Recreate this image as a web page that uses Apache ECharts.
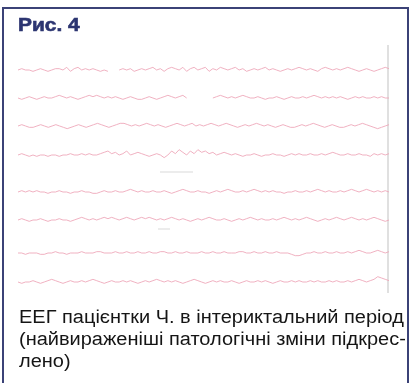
<!DOCTYPE html>
<html>
<head>
<meta charset="utf-8">
<script src="https://cdn.jsdelivr.net/npm/echarts@6/dist/echarts.min.js"></script>
<style>
html,body{margin:0;padding:0;background:#fff;}
#chart{width:410px;height:383px;}
</style>
</head>
<body>
<div id="chart"></div>
<script>
// EEG channel traces (relative amplitude; null = gap in trace)
const ch1 = [0,1,0,0,-1,0,1,0,-1,0,1,1,0,2,-1,1,2,0,1,0,1,0,-1,0,-1,null,null,0,1,0,1,-1,0,1,0,1,2,0,1,-1,1,2,1,0,2,-1,1,2,0,1,2,-1,1,0,2,1,0,1,2,0,1,-1,0,1,0,1,2,0,1,0,-1,0,1,0,1,2,1,0,1,0,-1,1,2,1,0,1,0,1,2,1,0,-1,0,1,0,-1,0,1,2,1];
const ch2 = [0,-1,0,1,0,-1,0,1,0,0,1,2,1,0,1,0,-1,0,1,2,1,2,1,0,1,0,1,0,-1,0,1,0,-1,-1,0,1,0,-1,0,1,2,1,0,1,2,0,null,null,null,null,null,null,0,1,2,1,0,1,0,1,2,1,0,0,1,0,-1,0,0,1,0,-1,0,1,0,0,1,0,1,2,1,0,1,0,1,0,1,0,-1,0,1,0,1,0,0,1,0,1,0,0];
const ch3 = [0,1,0,-1,-1,0,1,0,-1,0,1,0,-1,-2,-1,0,1,0,-1,0,1,2,1,0,-1,0,1,2,2,1,0,1,0,1,2,1,0,1,0,-1,0,1,2,1,0,1,2,0,1,0,1,2,1,0,1,2,1,0,-1,0,1,0,1,2,1,0,1,0,-1,0,1,0,-1,-1,0,1,0,1,2,1,0,-1,0,1,0,-1,-1,0,1,0,1,2,1,0,-1,-2,-1,0,1];
const ch4 = [0,1,0,-1,0,-1,0,0,-1,0,0,-1,0,0,1,0,0,1,0,1,0,0,1,2,3,1,2,0,1,3,0,1,2,1,0,-1,0,1,0,-2,0,3,1,4,2,0,3,1,4,2,3,1,2,0,1,2,1,0,1,0,-1,0,0,1,0,-1,0,0,1,0,0,-1,0,1,0,1,0,0,1,0,0,1,0,1,2,1,0,0,1,0,0,1,0,0,-1,1,0,1,0,1];
const ch5 = [0,1,0,1,0,1,0,0,-1,0,0,1,0,0,-1,0,0,1,0,0,-1,-1,0,1,0,0,1,0,0,1,2,1,0,1,0,0,1,0,0,1,0,-1,0,1,2,1,0,0,1,0,0,-1,0,1,0,1,2,1,0,0,1,0,1,2,1,0,1,0,1,0,0,-1,0,0,1,0,0,1,0,1,2,1,0,1,0,0,1,0,1,2,1,0,1,2,1,0,1,0,1,0];
const ch6 = [0,1,0,-1,0,0,1,0,-1,0,0,1,0,0,-1,0,1,2,1,0,1,0,1,2,1,2,1,0,1,2,1,0,1,2,1,2,1,0,1,0,1,2,1,0,1,0,-1,0,1,0,1,2,1,0,0,1,0,-1,0,1,0,1,2,1,0,1,0,0,1,0,1,2,1,0,1,0,1,2,1,0,-1,0,1,0,1,2,1,0,1,2,1,0,1,0,1,2,1,0,-1,0];
const ch7 = [0,0,-1,0,0,0,-1,-1,0,0,1,0,0,-1,0,0,0,1,0,0,0,1,1,0,0,0,1,0,0,1,0,0,1,0,0,1,0,0,1,1,0,0,1,0,0,1,0,0,0,1,0,0,1,0,0,1,0,0,0,1,1,0,0,1,0,0,1,0,0,1,0,0,0,-1,-2,-2,-1,0,0,1,0,0,1,0,0,1,0,0,1,0,1,2,1,0,0,1,2,1,0,1];
const ch8 = [0,-1,0,0,1,0,-1,0,1,2,1,0,-1,0,1,0,0,1,0,1,2,1,0,-1,0,1,0,0,1,0,1,0,-1,0,1,0,1,2,1,0,1,0,1,0,-1,0,1,2,1,0,-1,0,1,0,1,0,0,1,0,-1,0,1,0,0,1,0,1,0,-1,0,1,0,0,1,0,1,0,0,1,0,1,0,0,1,0,1,0,0,1,0,1,2,1,0,1,2,4,3,2,1];

const titleText = 'Рис. 4';
const captionLines = [
  'ЕЕГ пацієнтки Ч. в інтериктальний період',
  '(найвираженіші патологічні зміни підкрес-',
  'лено)'
];

const channels = [ch1, ch2, ch3, ch4, ch5, ch6, ch7, ch8];
const centers = [70, 98, 126, 155, 192, 220, 253, 282];
const traceColor = '#eea8ba';

const grids = [], xAxes = [], yAxes = [], series = [];
channels.forEach((ch, k) => {
  grids.push({left: 18, right: 21, top: centers[k] - 8, height: 16});
  xAxes.push({type: 'value', gridIndex: k, min: 0, max: ch.length - 1, show: false});
  yAxes.push({type: 'value', gridIndex: k, min: -6, max: 6, show: false});
  series.push({
    type: 'line', xAxisIndex: k, yAxisIndex: k,
    data: ch.map((v, i) => [i, v]),
    showSymbol: false, connectNulls: false, smooth: false,
    lineStyle: {color: traceColor, width: 0.9},
    silent: true, animation: false
  });
});

const chart = echarts.init(document.getElementById('chart'), null, {renderer: 'canvas'});
chart.setOption({
  backgroundColor: '#ffffff',
  animation: false,
  grid: grids, xAxis: xAxes, yAxis: yAxes, series: series,
  graphic: [
    {type: 'rect', shape: {x: 3, y: 8, width: 405, height: 390},
     style: {fill: 'none', stroke: '#3b4277', lineWidth: 2}, silent: true},
    {type: 'text', x: 18, y: 16, scaleX: 1.1, scaleY: 1,
     style: {text: titleText, fill: '#2c3571', stroke: '#2c3571', lineWidth: 0.6,
             font: 'bold 19px "Liberation Sans", Arial, sans-serif'}},
    {type: 'line', shape: {x1: 388, y1: 45, x2: 388, y2: 293},
     style: {stroke: '#d6d6d6', lineWidth: 1.5}, silent: true},
    {type: 'line', shape: {x1: 160, y1: 172, x2: 193, y2: 172},
     style: {stroke: '#d9d9d9', lineWidth: 1}, silent: true},
    {type: 'line', shape: {x1: 158, y1: 229, x2: 170, y2: 229},
     style: {stroke: '#d9d9d9', lineWidth: 1}, silent: true},
    ...captionLines.map((t, i) => ({
      type: 'text', x: 19, y: 309 + i * 22, scaleX: 1.11, scaleY: 1,
      style: {text: t, fill: '#151515', font: '18px "Liberation Sans", Arial, sans-serif'}
    }))
  ]
});
</script>
</body>
</html>
